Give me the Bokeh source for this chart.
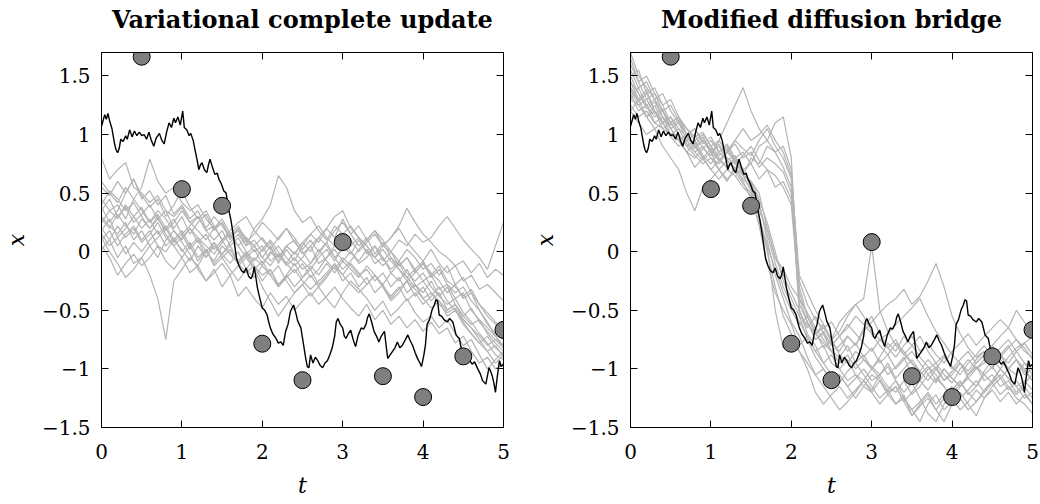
import numpy as np
from bokeh.plotting import figure
from bokeh.layouts import row
from bokeh.models import Range1d, FixedTicker, LinearAxis, CustomJSTickFormatter
from bokeh.embed import file_html
from bokeh.resources import INLINE

# ---------------- data ----------------
titles = ["Variational complete update", "Modified diffusion bridge"]
x_ticks = [0, 1, 2, 3, 4, 5]
y_ticks = [-1.5, -1, -0.5, 0, 0.5, 1, 1.5]

obs_t = [0.5, 1.0, 1.5, 2.0, 2.5, 3.0, 3.5, 4.0, 4.5, 5.0]
obs_x = [1.664, 0.534, 0.392, -0.785, -1.096, 0.082, -1.062, -1.24, -0.893, -0.667]

true_t = [0.00, 0.02, 0.04, 0.06, 0.08, 0.10, 0.13, 0.16, 0.18, 0.20, 0.22, 0.24, 0.27, 0.30, 0.32,
          0.35, 0.38, 0.41, 0.44, 0.47, 0.50, 0.53, 0.56, 0.59, 0.62, 0.65, 0.68, 0.72, 0.75, 0.78,
          0.81, 0.84, 0.87, 0.90, 0.92, 0.95, 0.98, 1.01, 1.03, 1.06, 1.09, 1.11, 1.14, 1.17, 1.19,
          1.21, 1.23, 1.25, 1.28, 1.31, 1.33, 1.35, 1.38, 1.41, 1.44, 1.46, 1.49, 1.52, 1.55, 1.58,
          1.61, 1.64, 1.66, 1.68, 1.71, 1.74, 1.77, 1.80, 1.83, 1.86, 1.88, 1.90, 1.92, 1.94, 1.97,
          2.00, 2.03, 2.06, 2.08, 2.10, 2.13, 2.17, 2.20, 2.23, 2.26, 2.29, 2.32, 2.35, 2.37, 2.39,
          2.42, 2.44, 2.48, 2.51, 2.54, 2.56, 2.58, 2.60, 2.63, 2.66, 2.69, 2.72, 2.75, 2.78, 2.81,
          2.84, 2.87, 2.90, 2.92, 2.94, 2.97, 3.00, 3.02, 3.04, 3.07, 3.10, 3.13, 3.16, 3.19, 3.23,
          3.26, 3.29, 3.31, 3.33, 3.36, 3.39, 3.42, 3.45, 3.48, 3.52, 3.54, 3.56, 3.59, 3.62, 3.65,
          3.68, 3.71, 3.74, 3.78, 3.81, 3.84, 3.87, 3.90, 3.93, 3.96, 3.98, 4.01, 4.03, 4.05, 4.08,
          4.11, 4.14, 4.16, 4.18, 4.20, 4.23, 4.26, 4.30, 4.33, 4.37, 4.41, 4.45, 4.49, 4.52, 4.55,
          4.58, 4.61, 4.64, 4.68, 4.71, 4.74, 4.78, 4.80, 4.82, 4.84, 4.86, 4.88, 4.90, 4.92, 4.95,
          4.97, 5.00]
true_x = [1.07, 1.12, 1.17, 1.13, 1.18, 1.12, 1.05, 0.93, 0.87, 0.845, 0.88, 0.96, 0.94, 0.99, 0.96,
          1.04, 0.98, 1.03, 0.99, 1.02, 0.99, 1.00, 0.96, 1.02, 0.95, 0.90, 0.97, 1.01, 0.95, 0.92,
          1.02, 1.10, 1.06, 1.14, 1.10, 1.15, 1.08, 1.20, 1.06, 1.04, 0.99, 1.01, 0.95, 0.845, 0.78,
          0.70, 0.74, 0.76, 0.70, 0.675, 0.74, 0.79, 0.72, 0.66, 0.67, 0.62, 0.58, 0.52, 0.50, 0.365,
          0.27, 0.14, 0.04, -0.06, -0.12, -0.16, -0.18, -0.14, -0.21, -0.23, -0.20, -0.13, -0.22, -0.31, -0.40,
          -0.48, -0.50, -0.54, -0.60, -0.65, -0.70, -0.74, -0.78, -0.77, -0.80, -0.68, -0.62, -0.51, -0.48, -0.455,
          -0.53, -0.59, -0.65, -0.78, -0.91, -0.98, -0.99, -0.88, -0.95, -0.90, -0.93, -0.97, -0.99, -0.95, -0.93,
          -0.88, -0.82, -0.72, -0.60, -0.57, -0.62, -0.65, -0.72, -0.74, -0.70, -0.67, -0.75, -0.81, -0.72, -0.65,
          -0.66, -0.62, -0.56, -0.53, -0.60, -0.68, -0.72, -0.77, -0.72, -0.68, -0.80, -0.91, -0.88, -0.85, -0.82,
          -0.77, -0.82, -0.80, -0.75, -0.71, -0.76, -0.80, -0.86, -0.91, -0.95, -0.98, -0.88, -0.79, -0.62, -0.58,
          -0.50, -0.455, -0.41, -0.42, -0.54, -0.55, -0.58, -0.60, -0.57, -0.60, -0.71, -0.74, -0.88, -0.86, -0.91,
          -0.93, -0.96, -0.94, -1.00, -1.04, -1.10, -1.13, -1.06, -0.99, -1.02, -1.06, -1.12, -1.20, -1.08, -0.93,
          -0.98, -0.96]

# sample paths, values every 0.1 in t (t = 0 ... 5)
left_paths = [
    [0.80,0.62,0.70,0.76,0.55,0.50,0.42,0.48,0.35,0.30,0.38,0.25,0.30,0.18,0.22,0.10,0.15,0.05,0.12,0.00,0.05,-0.08,-0.02,-0.12,-0.05,-0.15,-0.10,0.02,-0.08,-0.15,-0.05,-0.12,-0.20,-0.15,-0.25,-0.18,-0.30,-0.22,-0.35,-0.28,-0.40,-0.35,-0.45,-0.52,-0.48,-0.60,-0.70,-0.78,-0.85,-0.80,-0.90],
    [0.45,0.35,0.40,0.28,0.45,0.55,0.79,0.60,0.50,0.55,0.42,0.35,0.40,0.28,0.20,0.25,0.12,0.18,0.05,0.10,0.00,0.08,-0.05,0.05,0.10,-0.02,0.05,-0.10,-0.05,0.05,0.10,0.00,-0.08,0.02,-0.10,-0.05,-0.18,-0.10,-0.22,-0.15,-0.25,-0.20,-0.32,-0.28,-0.40,-0.35,-0.50,-0.58,-0.65,-0.72,-0.80],
    [0.20,0.10,-0.05,0.05,-0.10,-0.05,-0.20,-0.40,-0.75,-0.25,-0.15,-0.05,-0.12,0.00,-0.08,0.05,-0.02,-0.10,-0.18,-0.12,-0.25,-0.15,-0.30,-0.20,-0.10,-0.22,-0.15,-0.28,-0.20,-0.12,-0.25,-0.18,-0.30,-0.22,-0.35,-0.28,-0.40,-0.32,-0.25,-0.38,-0.30,-0.42,-0.35,-0.50,-0.45,-0.55,-0.62,-0.58,-0.70,-0.78,-0.85],
    [0.30,0.22,0.15,0.25,0.10,0.18,0.05,0.12,0.20,0.08,0.15,0.02,0.10,-0.05,0.05,-0.02,0.08,0.15,0.05,0.20,0.28,0.40,0.65,0.55,0.35,0.25,0.30,0.18,0.10,0.22,0.15,0.05,0.12,-0.02,0.05,-0.08,0.00,-0.12,-0.05,-0.18,-0.10,-0.22,-0.15,-0.28,-0.35,-0.30,-0.42,-0.50,-0.60,-0.72,-0.82],
    [0.10,0.18,0.05,0.15,0.22,0.10,0.18,0.05,0.00,0.10,0.02,-0.08,0.05,-0.05,0.08,-0.02,-0.10,0.00,-0.15,-0.05,-0.12,0.00,-0.08,0.05,-0.02,0.08,0.00,0.12,0.05,-0.05,0.02,0.10,0.00,0.08,0.15,0.05,0.12,0.22,0.37,0.25,0.15,0.08,0.00,-0.05,-0.12,-0.08,-0.18,-0.10,-0.22,-0.15,-0.20],
    [0.25,0.35,0.28,0.40,0.30,0.20,0.28,0.15,0.22,0.10,0.18,0.05,0.12,0.00,0.08,-0.05,0.02,-0.10,-0.02,0.05,-0.05,-0.12,-0.02,-0.10,0.00,-0.08,-0.15,-0.05,0.02,-0.08,0.05,-0.02,0.10,0.00,-0.05,0.05,0.00,0.10,0.05,0.15,0.08,0.12,0.22,0.30,0.20,0.10,0.02,-0.05,-0.15,0.05,0.25],
    [0.05,-0.05,-0.20,-0.10,-0.02,-0.12,-0.05,0.05,-0.08,-0.15,-0.05,-0.18,-0.12,-0.25,-0.15,-0.30,-0.20,-0.38,-0.30,-0.40,-0.48,-0.35,-0.45,-0.38,-0.50,-0.42,-0.35,-0.45,-0.38,-0.30,-0.40,-0.48,-0.55,-0.45,-0.58,-0.50,-0.62,-0.55,-0.65,-0.58,-0.68,-0.60,-0.70,-0.65,-0.78,-0.72,-0.85,-0.95,-0.90,-1.00,-0.95],
    [0.35,0.45,0.30,0.38,0.25,0.32,0.40,0.28,0.35,0.20,0.30,0.15,0.25,0.32,0.18,0.25,0.10,0.20,0.12,0.05,-0.05,0.05,-0.10,0.02,-0.08,0.05,0.15,0.08,0.20,0.12,0.28,0.15,0.05,0.12,-0.02,0.08,-0.05,-0.12,-0.05,-0.15,-0.08,-0.20,-0.12,-0.25,-0.30,-0.38,-0.32,-0.45,-0.55,-0.62,-0.70],
    [0.15,0.05,0.12,-0.02,0.08,0.00,0.10,0.18,0.05,0.12,0.00,0.08,-0.05,0.02,-0.10,-0.02,0.05,-0.08,0.00,-0.12,-0.20,-0.15,-0.28,-0.20,-0.30,-0.22,-0.12,-0.20,-0.10,-0.18,-0.08,-0.15,-0.22,-0.12,-0.20,-0.28,-0.18,-0.25,-0.15,-0.28,-0.35,-0.25,-0.38,-0.45,-0.40,-0.52,-0.60,-0.70,-0.78,-0.88,-0.92],
    [0.55,0.48,0.60,0.50,0.62,0.45,0.52,0.40,0.48,0.32,0.40,0.28,0.35,0.20,0.30,0.22,0.12,0.20,0.08,0.15,0.25,0.18,0.10,0.20,0.12,0.02,0.10,0.00,0.08,0.18,0.25,0.15,0.22,0.10,0.18,0.05,0.12,0.20,0.08,0.00,-0.08,0.02,-0.10,-0.18,-0.12,-0.25,-0.20,-0.32,-0.28,-0.35,-0.42],
    [0.28,0.20,0.32,0.22,0.15,0.28,0.20,0.30,0.15,0.05,0.12,0.20,0.08,0.15,0.02,0.10,-0.02,-0.10,-0.02,-0.15,-0.08,-0.20,-0.12,-0.25,-0.35,-0.28,-0.20,-0.30,-0.22,-0.12,-0.20,-0.10,-0.18,-0.28,-0.20,-0.30,-0.38,-0.30,-0.42,-0.35,-0.45,-0.38,-0.30,-0.42,-0.50,-0.58,-0.65,-0.75,-0.85,-0.95,-0.88],
    [0.18,0.28,0.12,0.20,0.30,0.38,0.25,0.32,0.20,0.28,0.15,0.22,0.30,0.18,0.10,0.18,0.05,0.12,0.00,-0.08,0.02,0.10,0.00,-0.10,-0.18,-0.10,-0.22,-0.15,-0.05,0.02,-0.08,0.00,-0.10,-0.05,0.05,-0.05,-0.15,-0.08,-0.18,-0.25,-0.18,-0.30,-0.38,-0.30,-0.45,-0.55,-0.48,-0.60,-0.68,-0.75,-0.80],
    [0.40,0.52,0.45,0.35,0.42,0.30,0.20,0.28,0.18,0.25,0.35,0.25,0.18,0.10,0.20,0.28,0.15,0.22,0.10,0.05,0.12,0.02,-0.05,0.05,-0.02,0.08,0.15,0.22,0.12,0.05,0.15,0.22,0.12,0.05,-0.05,-0.12,-0.05,-0.15,-0.25,-0.18,-0.10,-0.18,-0.25,-0.35,-0.28,-0.40,-0.35,-0.50,-0.62,-0.70,-0.75],
    [0.02,0.10,0.22,0.12,0.20,0.08,0.15,0.25,0.12,0.05,-0.05,0.05,-0.08,0.02,-0.12,-0.05,-0.15,-0.25,-0.15,-0.22,-0.12,-0.20,-0.30,-0.22,-0.15,-0.25,-0.32,-0.25,-0.18,-0.10,-0.20,-0.28,-0.35,-0.28,-0.20,-0.30,-0.42,-0.35,-0.25,-0.32,-0.40,-0.48,-0.42,-0.55,-0.50,-0.62,-0.70,-0.78,-0.72,-0.82,-0.88],
    [0.60,0.50,0.42,0.55,0.45,0.35,0.25,0.35,0.28,0.18,0.10,0.20,0.12,0.05,-0.02,0.08,0.15,0.05,-0.05,0.02,-0.10,-0.02,0.05,-0.05,-0.12,-0.05,0.05,0.12,0.20,0.30,0.35,0.20,0.12,0.05,-0.05,0.02,-0.08,-0.15,-0.22,-0.30,-0.25,-0.35,-0.42,-0.50,-0.45,-0.58,-0.65,-0.72,-0.80,-0.75,-0.82],
    [0.12,0.00,-0.10,-0.22,-0.15,-0.05,0.05,-0.05,0.10,0.18,0.08,-0.02,-0.15,-0.25,-0.18,-0.10,-0.20,-0.12,-0.05,-0.15,-0.30,-0.42,-0.55,-0.45,-0.35,-0.28,-0.38,-0.30,-0.40,-0.48,-0.35,-0.25,-0.32,-0.40,-0.50,-0.42,-0.55,-0.48,-0.40,-0.52,-0.60,-0.55,-0.65,-0.58,-0.70,-0.80,-0.75,-0.88,-1.00,-0.92,-0.85],
    [0.38,0.25,0.35,0.50,0.62,0.48,0.38,0.45,0.30,0.40,0.52,0.38,0.28,0.35,0.22,0.10,0.18,0.25,0.30,0.18,0.10,0.02,0.12,0.20,0.08,0.00,-0.10,-0.02,0.08,-0.05,-0.15,-0.08,0.02,0.10,0.18,0.10,0.00,-0.08,0.02,-0.05,-0.15,-0.10,-0.20,-0.12,-0.28,-0.22,-0.35,-0.45,-0.52,-0.60,-0.68],
]

right_paths = [
    [1.45,1.30,1.38,1.20,1.10,1.15,1.00,0.90,0.95,0.82,0.75,0.85,0.78,0.70,0.62,0.55,0.30,0.05,-0.50,-0.82,-0.75,-0.85,-0.95,-1.05,-1.00,-1.10,-1.05,-1.15,-1.08,-1.00,-1.10,-1.05,-1.15,-1.20,-1.10,-1.22,-1.15,-1.05,-1.12,-1.00,-1.08,-1.15,-1.05,-0.98,-1.10,-1.05,-1.15,-1.10,-1.20,-1.12,-1.05],
    [1.30,1.40,1.25,1.15,1.20,1.05,1.10,0.95,1.00,0.88,0.95,0.85,0.92,0.80,0.85,0.75,0.90,0.95,1.10,1.15,0.80,-0.45,-0.60,-0.75,-0.70,-0.85,-0.90,-0.80,-0.95,-0.88,-1.00,-0.92,-1.05,-0.98,-0.90,-1.05,-1.10,-1.00,-0.95,-1.05,-1.12,-1.00,-0.92,-1.00,-0.95,-0.85,-0.92,-1.00,-1.05,-0.95,-1.00],
    [1.60,1.45,1.50,1.35,1.25,1.10,1.15,1.00,0.92,0.98,0.85,0.90,0.78,0.82,0.70,0.55,0.40,0.15,-0.10,-0.30,-0.45,-0.60,-0.72,-0.85,-0.80,-0.95,-1.00,-0.92,-1.05,-1.10,-1.00,-1.08,-1.18,-1.10,-1.25,-1.35,-1.28,-1.20,-1.30,-1.22,-1.15,-1.25,-1.18,-1.10,-1.20,-1.12,-1.05,-1.15,-1.22,-1.15,-1.25],
    [1.25,1.15,1.20,1.10,1.05,1.00,0.95,0.85,0.80,0.88,0.82,0.95,1.10,1.25,1.40,1.20,1.05,0.95,0.85,0.90,0.70,-0.30,-0.55,-0.70,-0.62,-0.78,-0.85,-0.72,-0.80,-0.65,-0.55,-0.70,-0.82,-0.75,-0.88,-0.80,-0.72,-0.85,-0.95,-0.88,-1.00,-0.92,-0.85,-0.95,-0.88,-0.80,-0.90,-0.82,-0.75,-0.85,-0.90],
    [1.35,1.20,1.25,1.10,1.15,1.00,1.05,0.92,0.85,0.90,0.80,0.75,0.85,0.78,0.65,0.60,0.45,0.25,0.00,-0.25,-0.40,-0.55,-0.62,-0.70,-0.65,-0.75,-0.60,-0.52,-0.45,-0.40,0.05,-0.50,-0.68,-0.80,-0.88,-0.95,-1.05,-0.98,-1.10,-1.00,-1.08,-1.15,-1.05,-0.98,-1.05,-1.12,-1.00,-1.08,-1.15,-1.10,-1.18],
    [1.20,1.10,1.00,1.05,0.90,0.80,0.70,0.50,0.35,0.55,0.62,0.70,0.60,0.72,0.65,0.80,0.75,0.90,0.85,0.72,0.55,-0.50,-0.70,-0.80,-0.95,-0.88,-1.00,-1.10,-1.05,-1.15,-1.20,-1.10,-1.22,-1.30,-1.25,-1.35,-1.45,-1.30,-1.22,-1.35,-1.28,-1.20,-1.30,-1.40,-1.25,-1.18,-1.28,-1.20,-1.30,-1.22,-1.30],
    [1.50,1.55,1.35,1.40,1.25,1.30,1.15,1.05,0.95,1.00,0.90,0.82,0.88,0.75,0.68,0.60,0.50,0.20,-0.05,-0.20,-0.35,-0.50,-0.65,-0.55,-0.70,-0.80,-0.72,-0.85,-0.78,-0.90,-0.82,-0.95,-0.88,-1.00,-0.92,-0.85,-0.95,-1.05,-0.98,-1.10,-1.02,-0.95,-1.08,-1.00,-0.92,-1.00,-0.88,-0.95,-0.85,-0.95,-1.05],
    [1.40,1.30,1.15,1.25,1.10,1.00,0.95,0.85,0.92,0.80,0.70,0.78,0.85,0.95,0.88,0.82,0.95,1.05,0.90,0.80,0.62,-0.55,-0.75,-0.90,-1.00,-1.10,-1.05,-1.15,-1.25,-1.15,-1.05,-1.10,-1.20,-1.15,-1.28,-1.40,-1.30,-1.22,-1.35,-1.45,-1.30,-1.25,-1.35,-1.28,-1.20,-1.12,-1.22,-1.15,-1.25,-1.30,-1.38],
    [1.20,1.30,1.15,1.05,1.10,0.98,0.90,0.95,0.85,0.78,0.85,0.70,0.78,0.72,0.60,0.45,0.25,0.05,-0.15,-0.35,-0.50,-0.62,-0.55,-0.70,-0.78,-0.85,-0.80,-0.72,-0.80,-0.68,-0.60,-0.52,-0.45,-0.40,-0.32,-0.45,-0.38,-0.25,-0.10,-0.30,-0.55,-0.70,-0.82,-0.90,-0.85,-0.95,-0.88,-1.00,-0.92,-1.05,-1.00],
    [1.65,1.45,1.30,1.35,1.20,1.10,1.15,1.00,1.05,0.92,0.98,0.85,0.90,0.78,0.70,0.75,0.62,0.70,0.55,0.60,0.45,-0.35,-0.55,-0.68,-0.82,-0.75,-0.88,-0.95,-0.85,-0.92,-1.00,-0.90,-0.78,-0.85,-0.72,-0.80,-0.90,-0.98,-1.05,-1.15,-1.25,-1.15,-1.08,-1.15,-1.02,-0.92,-1.00,-0.90,-0.82,-0.78,-0.88],
    [1.30,1.25,1.15,1.20,1.05,1.10,1.00,0.90,0.82,0.75,0.80,0.70,0.62,0.68,0.58,0.50,0.30,0.00,-0.30,-0.55,-0.70,-0.85,-1.00,-1.20,-1.30,-1.22,-1.15,-1.25,-1.18,-1.10,-1.20,-1.30,-1.22,-1.15,-1.28,-1.20,-1.10,-1.18,-1.08,-1.15,-1.25,-1.35,-1.28,-1.18,-1.25,-1.15,-1.08,-1.18,-1.10,-1.20,-1.30],
    [1.40,1.28,1.35,1.20,1.10,1.15,1.05,0.98,0.88,0.95,0.85,0.92,0.80,0.75,0.82,0.90,0.78,0.70,0.65,0.55,0.40,-0.40,-0.60,-0.75,-0.68,-0.80,-0.72,-0.62,-0.70,-0.78,-0.85,-0.75,-0.82,-0.90,-0.80,-0.72,-0.85,-0.78,-0.88,-0.95,-0.85,-0.78,-0.70,-0.80,-0.72,-0.65,-0.58,-0.65,-0.50,-0.60,-0.70],
    [1.70,1.50,1.40,1.30,1.35,1.20,1.10,1.00,1.05,0.95,0.88,0.80,0.72,0.78,0.65,0.52,0.35,0.20,-0.05,-0.15,-0.30,-0.40,-0.52,-0.65,-0.75,-0.85,-0.95,-0.88,-1.00,-0.92,-0.98,-1.05,-0.95,-1.08,-1.00,-0.92,-1.02,-1.10,-1.00,-0.90,-0.98,-1.05,-0.95,-0.88,-0.80,-0.90,-0.82,-0.75,-0.85,-0.78,-0.72],
    [1.55,1.40,1.45,1.30,1.20,1.25,1.12,1.05,0.98,1.02,0.90,0.95,0.85,0.92,0.80,0.85,0.72,0.80,0.75,0.68,0.50,-0.25,-0.45,-0.58,-0.65,-0.60,-0.72,-0.65,-0.55,-0.62,-0.70,-0.80,-0.88,-0.78,-0.85,-0.95,-1.02,-0.92,-1.00,-1.10,-1.05,-0.95,-1.02,-0.92,-0.85,-0.95,-0.88,-0.80,-0.92,-1.00,-1.10],
    [1.38,1.25,1.30,1.18,1.22,1.05,0.95,1.00,0.90,0.80,0.88,0.78,0.72,0.80,0.68,0.58,0.42,0.10,-0.20,-0.40,-0.60,-0.72,-0.90,-1.05,-1.15,-1.25,-1.35,-1.28,-1.20,-1.10,-1.18,-1.05,-0.98,-1.10,-1.20,-1.12,-1.25,-1.38,-1.45,-1.30,-1.22,-1.12,-1.20,-1.28,-1.18,-1.10,-1.00,-1.08,-1.15,-1.25,-1.20],
    [1.50,1.35,1.25,1.30,1.15,1.08,1.12,1.00,0.90,0.95,0.85,0.78,0.85,0.95,1.05,0.95,1.00,1.08,0.95,0.85,0.65,-0.20,-0.35,-0.50,-0.62,-0.75,-0.68,-0.55,-0.45,-0.55,-0.68,-0.75,-0.70,-0.62,-0.55,-0.48,-0.40,-0.55,-0.68,-0.78,-0.88,-0.95,-1.05,-0.95,-0.88,-0.80,-0.72,-0.65,-0.75,-0.82,-0.92],
    [1.45,1.35,1.22,1.28,1.15,1.05,0.95,0.85,0.72,0.80,0.70,0.62,0.70,0.65,0.55,0.48,0.22,-0.10,-0.35,-0.50,-0.62,-0.80,-0.72,-0.85,-0.95,-1.05,-1.12,-1.02,-0.95,-1.05,-1.15,-1.25,-1.18,-1.30,-1.22,-1.40,-1.32,-1.25,-1.35,-1.25,-1.18,-1.10,-1.22,-1.15,-1.05,-0.98,-1.08,-1.00,-0.92,-1.02,-1.10],
]

GREY = "#b4b4b4"
SERIF = "DejaVu Serif"

label_code = "return tick < 0 ? '\u2212' + Math.abs(tick) : String(tick);"
blank_code = "return '';"


def style_axis(ax, ticks, show_labels, standoff=0):
    ax.ticker = FixedTicker(ticks=ticks)
    ax.major_tick_in = 7
    ax.major_tick_out = 0
    ax.minor_tick_line_color = None
    ax.axis_line_color = "black"
    ax.major_tick_line_color = "black"
    ax.major_label_text_font = SERIF
    ax.major_label_text_color = "black"
    ax.major_label_standoff = standoff
    if show_labels:
        ax.formatter = CustomJSTickFormatter(code=label_code)
        ax.major_label_text_font_size = "20px"
    else:
        ax.formatter = CustomJSTickFormatter(code=blank_code)
        ax.major_label_text_font_size = "1px"


def make_panel(title, paths, width, mb_left, mb_right):
    p = figure(width=width, height=500, x_range=Range1d(0, 5), y_range=Range1d(-1.5, 1.7),
               output_backend="svg", toolbar_location=None,
               min_border_left=mb_left, min_border_right=mb_right,
               min_border_top=52, min_border_bottom=70,
               x_axis_label="t", y_axis_label="x")
    p.grid.visible = False
    p.outline_line_color = "black"
    p.outline_line_width = 1
    p.background_fill_color = "white"
    p.border_fill_color = "white"

    p.title.text = title
    p.title.text_font = "DejaVu Serif"
    p.title.text_font_style = "bold"
    p.title.text_font_size = "24px"
    p.title.align = "center"
    p.title.text_color = "black"
    p.title.standoff = 0

    style_axis(p.xaxis[0], x_ticks, True, 16)
    style_axis(p.yaxis[0], y_ticks, True, 11)
    for ax in (p.xaxis[0], p.yaxis[0]):
        ax.axis_label_text_font = SERIF
        ax.axis_label_text_font_style = "italic"
        ax.axis_label_text_font_size = "22px"
        ax.axis_label_text_color = "black"
    p.xaxis[0].axis_label_standoff = 11
    p.yaxis[0].axis_label_standoff = 10

    # mirrored tick marks on the top and right edges
    top = LinearAxis()
    style_axis(top, x_ticks, False)
    p.add_layout(top, "above")
    right = LinearAxis()
    style_axis(right, y_ticks, False)
    p.add_layout(right, "right")
    # invisible spacer between the frame and the title
    spacer = LinearAxis()
    style_axis(spacer, x_ticks, False)
    spacer.axis_line_color = None
    spacer.major_tick_line_color = None
    spacer.major_tick_in = 0
    spacer.major_tick_out = 19
    p.add_layout(spacer, "above")

    xs = [list(np.linspace(0, 5, len(v))) for v in paths]
    p.multi_line(xs, paths, line_color=GREY, line_width=1.2)
    p.line(true_t, true_x, line_color="black", line_width=1.4)
    p.scatter(obs_t, obs_x, size=17, fill_color="#7f7f7f", line_color="black", line_width=1)
    return p


p1 = make_panel(titles[0], left_paths, 520, 101, 17)
p2 = make_panel(titles[1], right_paths, 520, 110, 8)
layout = row(p1, p2)

open("out.html", "w").write(file_html(layout, INLINE))
